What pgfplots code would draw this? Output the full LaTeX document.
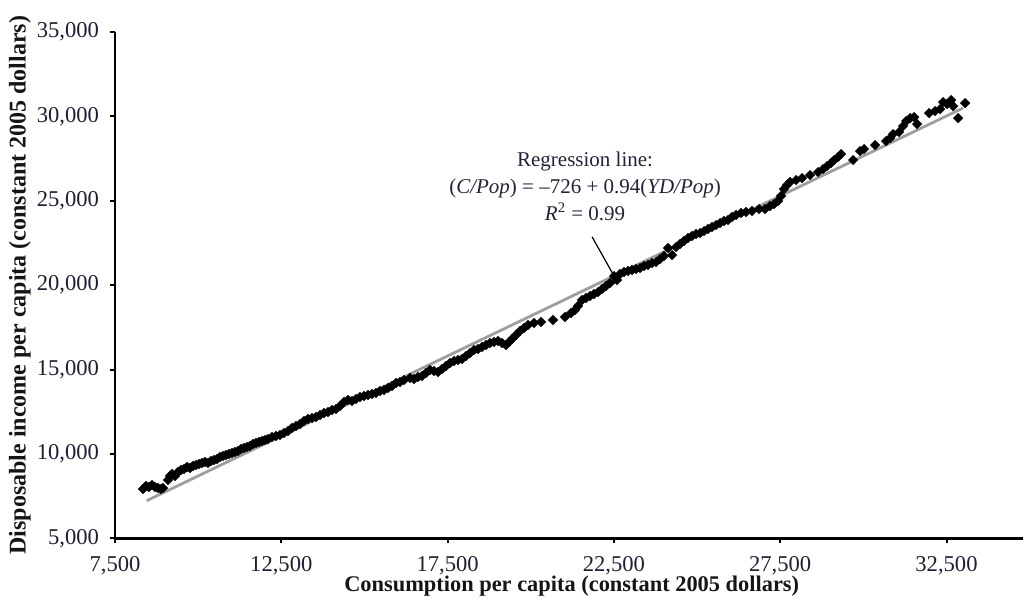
\documentclass[border=0pt]{standalone}
\usepackage{fontspec}
\setmainfont{Liberation Serif}
\usepackage{pgfplots}
\pgfplotsset{compat=1.18}
\definecolor{tickc}{RGB}{30,30,50}
\definecolor{regc}{RGB}{158,158,158}
\begin{document}
\begin{tikzpicture}
\useasboundingbox (-57.5pt,-31.35pt) rectangle (454.5pt,269.15pt);
\begin{axis}[
  scale only axis, width=454pt, height=253.2pt,
  xmin=7500, xmax=34800, ymin=5000, ymax=35000,
  axis lines=left, axis line style={-, line width=1.2pt},
  tick align=outside, major tick length=2.5pt,
  every tick/.style={black, line width=1pt},
  xtick={7500,12500,17500,22500,27500,32500},
  ytick={5000,10000,15000,20000,25000,30000,35000},
  scaled x ticks=false, scaled y ticks=false,
  /pgf/number format/assume math mode=true,
  /pgf/number format/.cd, fixed, precision=0, 1000 sep={,},
  /pgfplots/.cd,
  ticklabel style={font=\fontsize{11.3}{13}\selectfont, text=tickc},
  xticklabel style={yshift=-3pt},
  yticklabel style={xshift=-2pt},
  xlabel={\textbf{Consumption per capita (constant 2005 dollars)}},
  ylabel={\textbf{Disposable income per capita (constant 2005 dollars)}},
  xlabel style={at={(axis description cs:0.503,-0.0943)}, anchor=center, font=\fontsize{11.2}{13}\selectfont, text={rgb,255:red,25;green,20;blue,20}},
  ylabel style={at={(axis description cs:-0.1047,0.5)}, anchor=center, font=\fontsize{12}{14}\selectfont, text={rgb,255:red,25;green,20;blue,20}},
  clip=false,
]
\addplot[only marks, mark=square*, mark size=1.6pt, mark options={rotate=45}, black] table {
x y
8342 7921
8432 8098
8522 8039
8613 8157
8703 8039
8793 7980
8883 7921
8943 7980
9094 8454
9154 8691
9214 8810
9304 8691
9394 8928
9484 9047
9575 9106
9665 9224
9755 9165
9845 9283
9936 9342
10026 9401
10116 9461
10206 9520
10297 9461
10387 9579
10477 9638
10567 9697
10657 9816
10748 9875
10838 9935
10928 9994
11018 10053
11108 10112
11199 10171
11289 10290
11379 10349
11469 10408
11559 10468
11650 10586
11740 10646
11830 10705
11920 10764
12011 10823
12101 10882
12221 11001
12341 11060
12462 11119
12582 11238
12702 11356
12822 11534
12943 11652
13063 11771
13183 11948
13303 12067
13424 12126
13544 12185
13664 12304
13785 12422
13905 12481
14025 12600
14145 12659
14266 12837
14386 13074
14506 13192
14627 13133
14747 13252
14867 13370
14987 13429
15108 13489
15228 13548
15348 13607
15469 13726
15589 13785
15709 13903
15829 14022
15950 14199
16070 14259
16190 14377
16371 14496
16491 14436
16611 14555
16732 14614
16852 14792
16972 14970
17092 14910
17213 14851
17333 15029
17453 15206
17573 15384
17694 15502
17814 15562
17934 15621
18055 15799
18175 15976
18295 16154
18415 16213
18536 16332
18656 16450
18776 16569
18896 16628
19017 16687
19137 16569
19257 16450
19348 16628
19438 16806
19558 17043
19678 17280
19799 17458
19919 17635
20099 17754
20310 17813
20670 17932
21031 18109
21212 18346
21332 18524
21422 18761
21542 19116
21663 19235
21783 19353
21903 19472
22024 19590
22144 19768
22264 19946
22384 20124
22505 20538
22595 20301
22685 20657
22805 20775
22926 20835
23046 20894
23166 20953
23287 21012
23407 21131
23527 21190
23647 21309
23768 21368
23888 21546
24008 21723
24128 22197
24249 21782
24369 22256
24489 22434
24609 22612
24730 22790
24850 22908
24970 23026
25091 23086
25211 23204
25331 23323
25451 23441
25572 23560
25692 23678
25812 23797
25932 23856
26053 24034
26173 24152
26323 24271
26473 24330
26654 24389
26865 24508
27045 24508
27195 24686
27316 24804
27436 24982
27526 25278
27616 25692
27706 25929
27796 26107
27977 26225
28158 26344
28398 26521
28639 26699
28790 26877
28910 27054
29030 27232
29120 27410
29240 27587
29331 27765
29692 27410
29902 27943
30022 28061
30353 28298
30684 28535
30805 28713
30895 28950
31075 29068
31195 29424
31286 29720
31406 29897
31526 29956
31616 29542
31977 30193
32157 30312
32308 30430
32398 30845
32518 30726
32639 30963
32699 30608
32849 29897
33060 30785
};
\addplot[regc, line width=1.4pt] coordinates {(8453,7227) (32996,30490)};
\addplot[black, line width=0.6pt] coordinates {(21843,22861) (22505,20538)};
\node[align=center, font=\fontsize{10.5}{13.5}\selectfont, text={rgb,255:red,35;green,35;blue,55}] at (axis cs:21633,25871)
  {Regression line:\\(\textit{C/Pop}) = –726 + 0.94(\textit{YD/Pop})\\\textit{R}\textsuperscript{2} = 0.99};
\end{axis}
\end{tikzpicture}
\end{document}
